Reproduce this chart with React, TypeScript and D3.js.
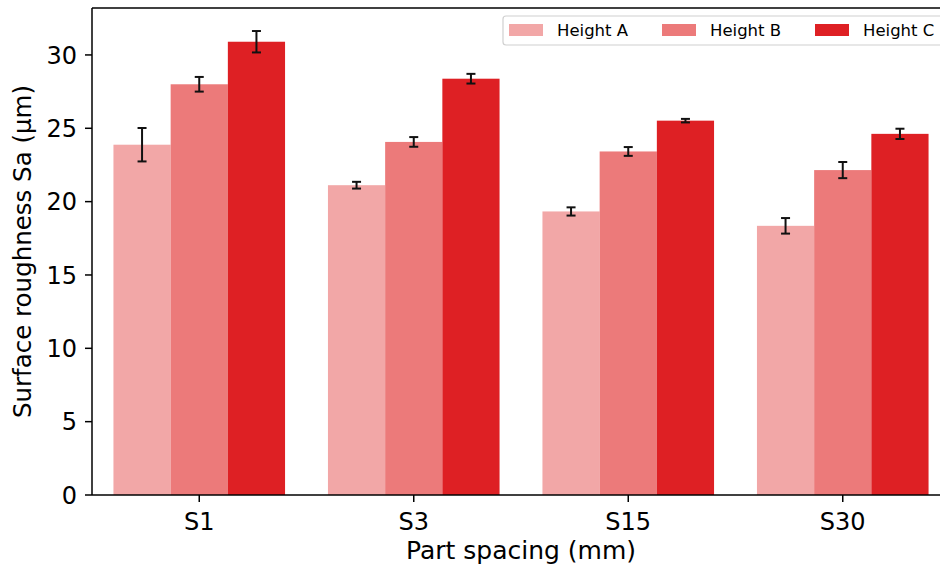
import React from "react";
import * as d3 from "d3";

const categories = ["S1", "S3", "S15", "S30"];
const seriesNames = ["Height A", "Height B", "Height C"];
const seriesColors = ["#f2a7a7", "#ec7a7a", "#de2024"];
const valuesA = [23.88, 21.12, 19.33, 18.35];
const valuesB = [28.0, 24.07, 23.42, 22.15];
const valuesC = [30.9, 28.38, 25.52, 24.62];
const errA = [1.14, 0.23, 0.28, 0.53];
const errB = [0.5, 0.33, 0.3, 0.55];
const errC = [0.73, 0.33, 0.12, 0.35];
const yTicks = [0, 5, 10, 15, 20, 25, 30];

const W = 940;
const H = 569;
const margin = { left: 92, top: 8, right: -10, bottom: 74 };

export default function App() {
  const x0 = margin.left;
  const x1 = W - margin.right;
  const y0 = H - margin.bottom;
  const y1 = margin.top;

  const x = d3.scaleLinear().domain([-0.5, 3.5]).range([x0, x1]);
  const y = d3.scaleLinear().domain([0, 33.2]).range([y0, y1]);

  const values = [valuesA, valuesB, valuesC];
  const errs = [errA, errB, errC];
  const bw = 0.8 / 3;
  const font = "DejaVu Sans, sans-serif";

  const bars: React.ReactNode[] = [];
  const ebars: React.ReactNode[] = [];
  categories.forEach((c, i) => {
    seriesNames.forEach((s, j) => {
      const v = values[j][i];
      const e = errs[j][i];
      const left = i - 0.4 + j * bw;
      const cx = x(left + bw / 2);
      bars.push(
        <rect
          key={`b-${i}-${j}`}
          x={x(left)}
          y={y(v)}
          width={x(left + bw) - x(left)}
          height={y(0) - y(v)}
          fill={seriesColors[j]}
        />
      );
      ebars.push(
        <g key={`e-${i}-${j}`} stroke="#111" strokeWidth={2}>
          <line x1={cx} x2={cx} y1={y(v - e)} y2={y(v + e)} />
          <line x1={cx - 4.5} x2={cx + 4.5} y1={y(v - e)} y2={y(v - e)} />
          <line x1={cx - 4.5} x2={cx + 4.5} y1={y(v + e)} y2={y(v + e)} />
        </g>
      );
    });
  });

  const legendX = 503;
  const legendY = 16;
  const legendItemX = [0, 153, 306];

  return (
    <svg
      width={W}
      height={H}
      style={{ position: "absolute", left: 0, top: 0, background: "#fff" }}
      fontFamily={font}
    >
      <rect x={0} y={0} width={W} height={H} fill="#fff" />
      {bars}
      {ebars}
      {/* spines */}
      <line x1={x0} x2={x0} y1={y1} y2={y0} stroke="#000" strokeWidth={1.5} />
      <line x1={x0} x2={x1} y1={y0} y2={y0} stroke="#000" strokeWidth={1.5} />
      <line x1={x0} x2={x1} y1={y1} y2={y1} stroke="#000" strokeWidth={1.5} />
      <line x1={x1} x2={x1} y1={y1} y2={y0} stroke="#000" strokeWidth={1.5} />
      {/* y ticks */}
      {yTicks.map((t) => (
        <g key={`yt-${t}`}>
          <line x1={x0 - 7} x2={x0} y1={y(t)} y2={y(t)} stroke="#000" strokeWidth={1.5} />
          <text x={x0 - 15} y={y(t)} dy="0.36em" textAnchor="end" fontSize={24} fill="#000">
            {t}
          </text>
        </g>
      ))}
      {/* x ticks */}
      {categories.map((c, i) => (
        <g key={`xt-${c}`}>
          <line x1={x(i)} x2={x(i)} y1={y0} y2={y0 + 7} stroke="#000" strokeWidth={1.5} />
          <text x={x(i)} y={530} textAnchor="middle" fontSize={24} fill="#000">
            {c}
          </text>
        </g>
      ))}
      <text x={(x0 + x1) / 2} y={559} textAnchor="middle" fontSize={25} fill="#000">
        Part spacing (mm)
      </text>
      <text
        transform={`translate(31, ${(y0 + y1) / 2}) rotate(-90)`}
        textAnchor="middle"
        fontSize={24.5}
        fill="#000"
      >
        Surface roughness Sa (µm)
      </text>
      {/* legend */}
      <rect
        x={legendX}
        y={legendY}
        width={442}
        height={29}
        rx={3}
        fill="#fff"
        fillOpacity={0.8}
        stroke="#d0d0d0"
        strokeWidth={1.2}
      />
      {seriesNames.map((s, j) => (
        <g key={`lg-${s}`} transform={`translate(${legendX + 6 + legendItemX[j]}, ${legendY})`}>
          <rect x={0} y={8} width={34} height={12} fill={seriesColors[j]} />
          <text x={48} y={20} fontSize={16.5} fill="#000">
            {s}
          </text>
        </g>
      ))}
    </svg>
  );
}
